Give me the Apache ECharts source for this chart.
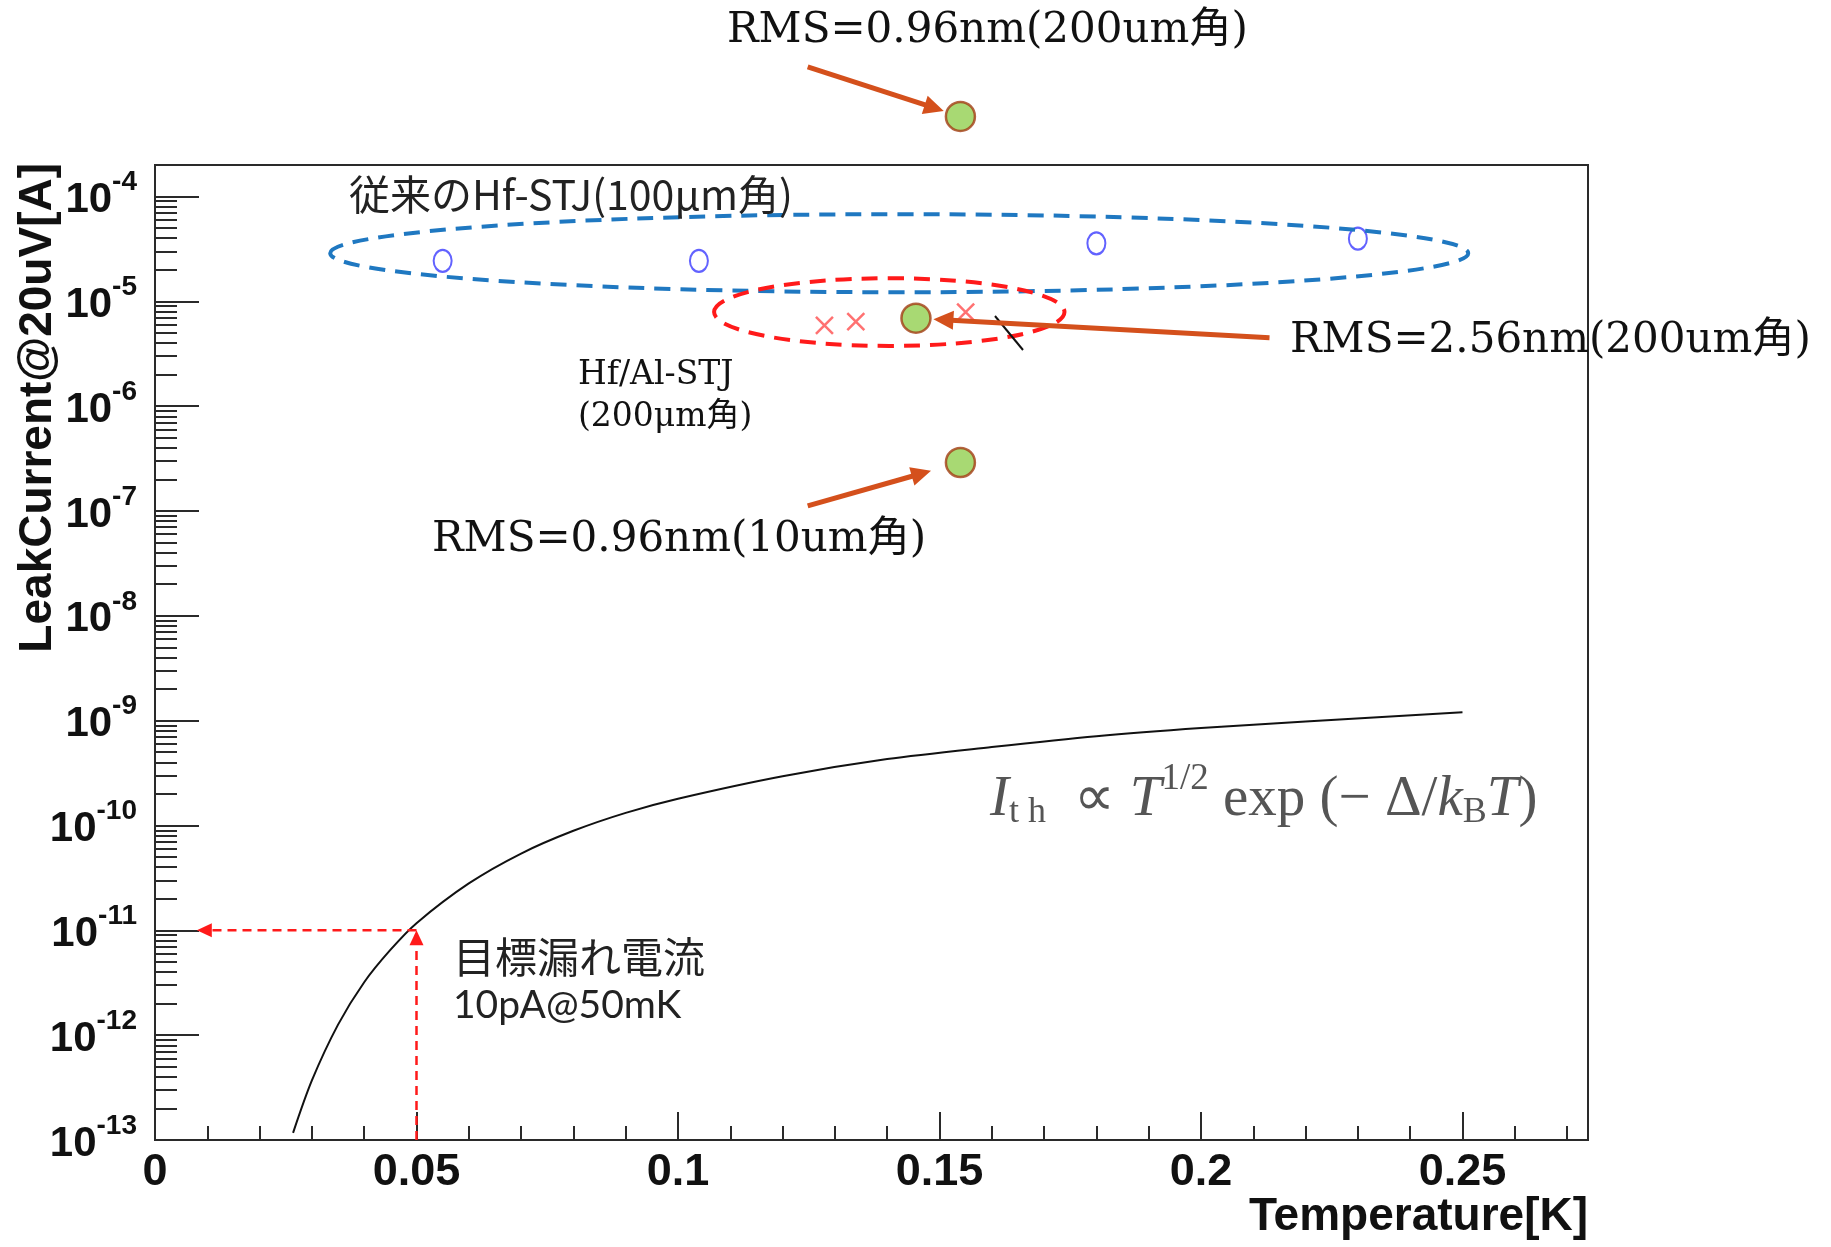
<!DOCTYPE html>
<html>
<head>
<meta charset="utf-8">
<script src="https://cdn.jsdelivr.net/npm/echarts@6/dist/echarts.min.js"></script>
<style>
  html, body { margin: 0; padding: 0; background: #ffffff; }
  #chart { width: 1831px; height: 1247px; }
</style>
</head>
<body>
<div id="chart"></div>
<script>
// Thermal leak current I_th along the model curve (T in K, current in A)
const curveT = [0.0264, 0.030, 0.035, 0.040, 0.045, 0.050, 0.060, 0.070, 0.080, 0.090,
                0.100, 0.120, 0.140, 0.160, 0.180, 0.200, 0.220, 0.250];
const curveI = [1.17e-13, 3.7e-13, 1.26e-12, 3.2e-12, 6.5e-12, 1.17e-11, 2.8e-11, 5.4e-11, 8.9e-11, 1.32e-10,
                1.8e-10, 2.95e-10, 4.3e-10, 5.6e-10, 7.1e-10, 8.5e-10, 9.8e-10, 1.2e-9];

// Conventional Hf-STJ (100 µm square)
const hfT = [0.055, 0.104, 0.180, 0.230];
const hfI = [2.43e-5, 2.43e-5, 3.57e-5, 3.96e-5];

// Hf/Al-STJ (200 µm square)
const hfAlT = [0.128, 0.134, 0.155];
const hfAlI = [5.9e-6, 6.4e-6, 7.9e-6];

// New junctions, labelled by surface roughness
const rmsT = [0.154, 0.1455, 0.154];
const rmsI = [5.8e-4, 6.9e-6, 2.9e-7];
const rmsLabels = ['RMS=0.96nm(200um角)', 'RMS=2.56nm(200um角)', 'RMS=0.96nm(10um角)'];

// Target leak current: 10 pA at 50 mK
const targetT = 0.05;
const targetI = 1e-11;

// Axis ticks
const xTickValues = [0, 0.05, 0.1, 0.15, 0.2, 0.25];
const xTickLabels = ['0', '0.05', '0.1', '0.15', '0.2', '0.25'];
const yDecades = [-13, -12, -11, -10, -9, -8, -7, -6, -5, -4];
const yMinorMultipliers = [2, 3, 4, 5, 6, 7, 8, 9];

// Axis ranges
const xMin = 0, xMax = 0.274;
const yMinLog = -13, yMaxLog = -3.7;

const LOG = v => Math.log10(v);
const pts = (ts, is) => ts.map((t, k) => [t, LOG(is[k])]);

const yMinorTicks = [];
yDecades.forEach(d => yMinorMultipliers.forEach(m => {
  const v = d + LOG(m);
  if (v < yMaxLog) yMinorTicks.push(v);
}));

const axisInk = '#2a2a2a';
const sansBold = { fontFamily: 'Liberation Sans', fontWeight: 'bold' };

const option = {
  animation: false,
  backgroundColor: '#ffffff',
  grid: { left: 155, top: 165, right: 243, bottom: 107, show: true,
          borderColor: axisInk, borderWidth: 2, backgroundColor: 'transparent' },
  xAxis: {
    type: 'value', min: xMin, max: xMax, interval: 0.05,
    axisLine: { lineStyle: { color: axisInk, width: 2 } },
    axisTick: { inside: true, length: 28, lineStyle: { color: axisInk, width: 2 } },
    minorTick: { show: true, splitNumber: 5, length: 14, lineStyle: { color: axisInk, width: 2 } },
    splitLine: { show: false },
    axisLabel: {
      formatter: v => {
        const k = xTickValues.findIndex(t => Math.abs(t - v) < 1e-9);
        return k < 0 ? '' : xTickLabels[k];
      },
      fontSize: 45, color: '#111', margin: 10, ...sansBold
    }
  },
  yAxis: [
    {
      type: 'value', min: yMinLog, max: yMaxLog, interval: 1,
      axisLine: { lineStyle: { color: axisInk, width: 2 } },
      axisTick: { inside: true, length: 44, lineStyle: { color: axisInk, width: 2 } },
      splitLine: { show: false },
      axisLabel: {
        margin: 18,
        formatter: v => {
          const e = Math.round(v);
          if (Math.abs(v - e) > 1e-6 || yDecades.indexOf(e) < 0) return '';
          return '{b|10}{s|' + e + '}';
        },
        rich: {
          b: { fontSize: 42, lineHeight: 42, color: '#111', padding: [8, 0, 0, 0], ...sansBold },
          s: { fontSize: 28, lineHeight: 28, color: '#111', padding: [0, 0, 28, 0], ...sansBold }
        }
      }
    },
    {
      type: 'value', min: yMinLog, max: yMaxLog, position: 'left',
      axisLine: { show: false },
      axisLabel: { show: false },
      splitLine: { show: false },
      axisTick: { show: true, inside: true, length: 22, customValues: yMinorTicks,
                  lineStyle: { color: axisInk, width: 2 } }
    }
  ],
  series: [
    {
      name: 'I_th', type: 'line', data: pts(curveT, curveI),
      showSymbol: false, smooth: 0.3, z: 3,
      lineStyle: { color: '#111', width: 2 }
    },
    {
      name: 'Hf-STJ', type: 'scatter', data: pts(hfT, hfI),
      symbol: 'circle', symbolSize: [18, 22], z: 4,
      itemStyle: { color: 'rgba(255,255,255,0)', borderColor: '#3b3bff', borderWidth: 2.2 }
    },
    {
      name: 'Hf/Al-STJ', type: 'scatter', data: pts(hfAlT, hfAlI),
      symbol: 'path://M0,0L10,10M10,0L0,10', symbolSize: 17, z: 4,
      itemStyle: { color: 'rgba(255,255,255,0)', borderColor: '#ff4d4d', borderWidth: 2.5 }
    },
    {
      name: 'RMS', type: 'scatter', data: pts(rmsT, rmsI),
      symbol: 'circle', symbolSize: 29, clip: false, z: 6,
      itemStyle: { color: '#92d050', borderColor: '#a23d14', borderWidth: 2.5 }
    }
  ]
};

const chart = echarts.init(document.getElementById('chart'), null, { renderer: 'canvas' });
chart.setOption(option);

// ---- annotations, placed through the chart's own coordinate conversion ----
const toPx = (t, i) => chart.convertToPixel({ xAxisIndex: 0, yAxisIndex: 0 }, [t, LOG(i)]);

function arrow(p0, p1, color, width, headLen, headW, dash, z) {
  const dx = p1[0] - p0[0], dy = p1[1] - p0[1];
  const L = Math.hypot(dx, dy), ux = dx / L, uy = dy / L;
  const bx = p1[0] - ux * headLen, by = p1[1] - uy * headLen;
  return [
    { type: 'line', z: z, silent: true,
      shape: { x1: p0[0], y1: p0[1], x2: bx + ux * 2, y2: by + uy * 2 },
      style: { stroke: color, lineWidth: width, lineDash: dash || null } },
    { type: 'polygon', z: z, silent: true,
      shape: { points: [[p1[0], p1[1]],
                        [bx - uy * headW / 2, by + ux * headW / 2],
                        [bx + uy * headW / 2, by - ux * headW / 2]] },
      style: { fill: color } }
  ];
}

// Group outlines (temperature span and current span in data units)
const groupOutlines = [
  { tMin: 0.0335, tMax: 0.2511, iLow: 1.22e-5, iHigh: 6.78e-5, color: '#1f78c1' },
  { tMin: 0.1069, tMax: 0.1739, iLow: 3.75e-6, iHigh: 1.66e-5, color: '#ff1a1a' }
];

// Orange pointers: tail in data units, head stops short of the marker
const pointerTails = [[0.1248, 1.72e-3], [0.2131, 4.48e-6], [0.1248, 1.12e-7]];
const pointerGaps = [3, 3, 16];

const g = [];

groupOutlines.forEach(o => {
  const a = toPx(o.tMin, o.iHigh), b = toPx(o.tMax, o.iLow);
  g.push({ type: 'ellipse', z: 5, silent: true,
    shape: { cx: (a[0] + b[0]) / 2, cy: (a[1] + b[1]) / 2,
             rx: Math.abs(b[0] - a[0]) / 2, ry: Math.abs(b[1] - a[1]) / 2 },
    style: { fill: 'none', stroke: o.color, lineWidth: 4, lineDash: [16, 10] } });
});

rmsT.forEach((t, k) => {
  const c = toPx(t, rmsI[k]);
  const tail = toPx(pointerTails[k][0], pointerTails[k][1]);
  const dx = c[0] - tail[0], dy = c[1] - tail[1], L = Math.hypot(dx, dy);
  const r = 14.5 + pointerGaps[k];
  const tip = [c[0] - dx / L * r, c[1] - dy / L * r];
  arrow(tail, tip, '#d4501c', 5, 20, 19, null, 7).forEach(e => g.push(e));
});

// Target markers: up from the axis to the target, then across to the current axis
const tgt = toPx(targetT, targetI);
const tgtBottom = toPx(targetT, Math.pow(10, yMinLog));
const tgtLeft = toPx(0.008, targetI);
arrow(tgtBottom, tgt, '#ff1a1a', 2.5, 15, 14, [9, 6], 7).forEach(e => g.push(e));
arrow(tgt, tgtLeft, '#ff1a1a', 2.5, 15, 14, [9, 6], 7).forEach(e => g.push(e));

// Short stray stroke next to the Hf/Al outline
g.push({ type: 'line', z: 5, silent: true,
  shape: { x1: 995, y1: 316, x2: 1023, y2: 350 }, style: { stroke: '#111', lineWidth: 2 } });

const serif = 'DejaVu Serif, "Noto Sans CJK JP", serif';
const jp = '"Noto Sans CJK JP", sans-serif';
function txt(text, x, y, font, extra) {
  return Object.assign({ type: 'text', z: 8, silent: true, x: x, y: y,
    style: Object.assign({ text: text, font: font, fill: '#111',
      textAlign: 'left', textVerticalAlign: 'middle' }, extra || {}) });
}

g.push(txt(rmsLabels[0], 727, 31, '42px ' + serif));
g.push(txt(rmsLabels[1], 1290, 341, '42px ' + serif));
g.push(txt(rmsLabels[2], 432, 540, '42px ' + serif));
g.push(txt('従来のHf-STJ(100μm角)', 349, 194, '41px ' + jp, { fill: '#222' }));
g.push(txt('Hf/Al-STJ', 578, 375, '33px ' + serif));
g.push(txt('(200μm角)', 578, 417, '33px ' + serif));
g.push(txt('目標漏れ電流', 453, 957, '42px ' + jp, { fill: '#222' }));
g.push(txt('10pA@50mK', 453, 1005, '39px Lato, sans-serif', { fill: '#222' }));

// Model formula
const fm = { fontFamily: 'Liberation Serif', fill: '#555', verticalAlign: 'middle' };
g.push({ type: 'text', z: 8, silent: true, x: 990, y: 800,
  style: {
    text: '{i|I}{sb|t h}{r|  ∝ }{i|T}{sp|1/2}{r| exp (− Δ/}{i|k}{sb|B}{i|T}{r|)}',
    textAlign: 'left', textVerticalAlign: 'middle',
    rich: {
      i: Object.assign({ fontStyle: 'italic', fontSize: 57, lineHeight: 62 }, fm),
      r: Object.assign({ fontSize: 57, lineHeight: 62 }, fm),
      sb: Object.assign({ fontSize: 36, lineHeight: 36, padding: [26, 0, 0, 0] }, fm),
      sp: Object.assign({ fontSize: 37, lineHeight: 37, padding: [0, 0, 42, 0] }, fm)
    }
  } });

// Axis titles
g.push({ type: 'text', z: 8, silent: true, x: 1588, y: 1217,
  style: { text: 'Temperature[K]', font: 'bold 46px "Liberation Sans"', fill: '#111',
           textAlign: 'right', textVerticalAlign: 'middle' } });
g.push({ type: 'text', z: 8, silent: true, x: 38, y: 163, rotation: Math.PI / 2,
  style: { text: 'LeakCurrent@20uV[A]', font: 'bold 46px "Liberation Sans"', fill: '#111',
           textAlign: 'right', textVerticalAlign: 'middle' } });

chart.setOption({ graphic: { elements: g } });
</script>
</body>
</html>
